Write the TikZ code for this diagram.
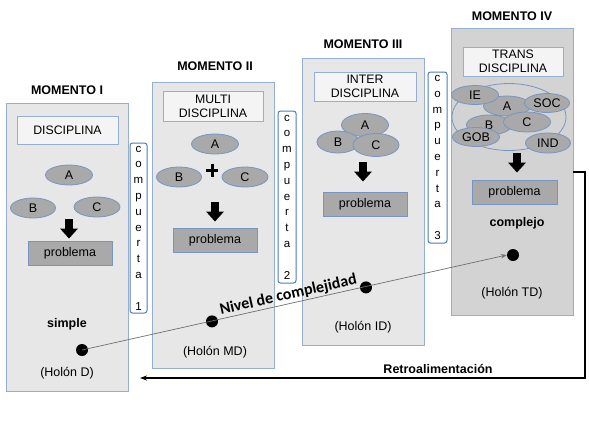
\documentclass[tikz,border=0pt]{standalone}
\usepackage{fontspec}
\setmainfont{Liberation Sans}
\newfontfamily\calibfont{Carlito}
\usetikzlibrary{shapes.geometric,arrows.meta}
\definecolor{panelfill}{HTML}{E7E7E7}
\definecolor{panelfour}{HTML}{D3D3D3}
\definecolor{panelline}{HTML}{95AFD3}
\definecolor{titlefill}{HTML}{F4F4F4}
\definecolor{ellfill}{HTML}{A9A9A9}
\definecolor{ellline}{HTML}{7895C2}
\definecolor{gateline}{HTML}{4F7BBA}
\definecolor{levelline}{HTML}{707070}
\begin{document}
\begin{tikzpicture}[x=1pt,y=-1pt,
  panel/.style={draw=panelline, fill=panelfill, line width=0.8pt, minimum width=122pt, inner sep=0pt},
  titlebox/.style={draw=panelline, fill=titlefill, line width=0.8pt, minimum width=101pt, minimum height=29pt, inner sep=0pt, align=center, font=\fontsize{12.3}{14}\selectfont},
  probbox/.style={draw=ellline, fill=ellfill, line width=0.8pt, minimum width=84pt, minimum height=24pt, inner sep=0pt, font=\fontsize{12.5}{14}\selectfont},
  ell/.style={ellipse, draw=ellline, fill=ellfill, line width=0.8pt, minimum width=47pt, minimum height=20pt, inner sep=0pt, font=\fontsize{12.5}{14}\selectfont},
  gate/.style={draw=gateline, rounded corners=2.5pt, line width=1pt, minimum width=17pt, inner sep=0pt, align=center, font=\fontsize{11.5}{15.8}\selectfont},
  moment/.style={font=\bfseries\fontsize{12.5}{14}\selectfont},
  plain/.style={font=\fontsize{12.5}{14}\selectfont},
  boldtxt/.style={font=\bfseries\fontsize{12.5}{14}\selectfont},
  dotnode/.style={circle, fill=black, minimum size=12pt, inner sep=0pt},
  blockarrow/.pic={\fill[black] (-3.8,0) -- (3.8,0) -- (3.8,9.5) -- (9,9.5) -- (0,19.5) -- (-9,9.5) -- (-3.8,9.5) -- cycle;}
]
\useasboundingbox (0,0) rectangle (589,432);
\fill[white] (0,0) rectangle (589,432);

% panels
\node[panel, minimum height=288pt] (p1) at (67,247) {};
\node[panel, minimum height=286pt] (p2) at (213,225) {};
\node[panel, minimum height=287pt] (p3) at (363,201.5) {};
\node[panel, fill=panelfour, minimum height=287pt] (p4) at (512,171.5) {};

% titles
\node[moment] (m1) at (67,90) {MOMENTO I};
\node[moment] (m2) at (215,66) {MOMENTO II};
\node[moment] (m3) at (363,44) {MOMENTO III};
\node[moment] (m4) at (512,16) {MOMENTO IV};

% discipline boxes
\node[titlebox, minimum height=28pt] (t1) at (67.5,130) {DISCIPLINA};
\node[titlebox, minimum width=100pt, minimum height=30pt] (t2) at (213,106) {MULTI\\DISCIPLINA};
\node[titlebox, minimum width=102pt] (t3) at (365,86.5) {INTER\\DISCIPLINA};
\node[titlebox, minimum width=100pt] (t4) at (513,61.5) {TRANS\\DISCIPLINA};

% Moment I
\node[ell] (a1) at (69,175) {A};
\node[ell, minimum width=45pt] (b1) at (33,208) {B};
\node[ell, minimum width=46pt] (c1) at (97,207) {C};
\pic at (69,219) {blockarrow};
\node[probbox] (pr1) at (70,253) {problema};

% Moment II
\node[ell] (a2) at (215,144) {A};
\node[ell, minimum width=45pt] (b2) at (179,177) {B};
\node[ell, minimum width=46pt] (c2) at (245,177) {C};
\fill[black] (206,168.5) rectangle (218,171.5);
\fill[black] (210.5,163.5) rectangle (213.5,176.5);
\pic at (215,202) {blockarrow};
\node[probbox] (pr2) at (215,240) {problema};

% Moment III
\node[ell, minimum height=23pt] (a3) at (365,125) {A};
\node[ell, minimum width=42pt, minimum height=22pt] (b3) at (338,142) {B};
\node[ell, minimum width=46pt, minimum height=23pt] (c3) at (376,145) {C};
\pic at (363,162) {blockarrow};
\node[probbox] (pr3) at (365,204) {problema};

% Moment IV
\node[ellipse, draw=ellline, line width=0.8pt, minimum width=114pt, minimum height=67pt, inner sep=0pt] (big) at (509,117) {};
\node[ell] (a4) at (507,106) {A};
\node[ell, minimum width=45pt] (b4) at (489,125) {B};
\node[ell] (c4) at (527,122) {C};
\node[ell, minimum height=19pt] (ie4) at (475,95) {IE};
\node[ell, minimum width=45pt, minimum height=19pt] (soc4) at (547,103) {SOC};
\node[ell, minimum height=19pt] (gob4) at (476,137) {GOB};
\node[ell, minimum width=45pt] (ind4) at (548,143) {IND};
\pic at (517,153) {blockarrow};
\node[probbox, minimum width=85pt] (pr4) at (514.5,192.5) {problema};

% gates
\node[gate, minimum height=170pt] (g1) at (138.5,228) {c\\o\\m\\p\\u\\e\\r\\t\\a\\\strut\\1};
\node[gate, minimum width=18pt, minimum height=172pt] (g2) at (287,197) {c\\o\\m\\p\\u\\e\\r\\t\\a\\\strut\\2};
\node[gate, minimum width=19pt, minimum height=171pt] (g3) at (437.5,157.5) {c\\o\\m\\p\\u\\e\\r\\t\\a\\\strut\\3};

% bottom texts
\node[boldtxt] (s1) at (67,324) {simple};
\node[boldtxt] (s4) at (517,223) {complejo};
\node[plain] (h1) at (67,373) {(Holón D)};
\node[plain] (h2) at (215,352) {(Holón MD)};
\node[plain] (h3) at (363,327) {(Holón ID)};
\node[plain] (h4) at (512,293) {(Holón TD)};

% dots
\node[dotnode] (d1) at (82,350) {};
\node[dotnode] (d2) at (212,321.4) {};
\node[dotnode] (d3) at (366,287.4) {};
\node[dotnode] (d4) at (513,255) {};

% level line
\draw[levelline, line width=0.7pt, -{Stealth[length=6pt,width=4.5pt]}] (d1.center) -- (d4.west)
  node[pos=0.49, sloped, anchor=south, inner sep=1.2pt, text=black, font=\calibfont\bfseries\fontsize{16}{18}\selectfont] (nl) {Nivel de complejidad};

% feedback
\coordinate (r1) at (585,172);
\coordinate (r2) at (585,378);
\coordinate (r3) at (140,378);
\draw[black, line width=1.4pt, -{Stealth[length=7pt,width=5pt]}] (p4.east |- r1) -- (r1) -- (r2) -- (r3);
\node[boldtxt] (ret) at (438,369) {Retroalimentación};
\end{tikzpicture}
\end{document}
